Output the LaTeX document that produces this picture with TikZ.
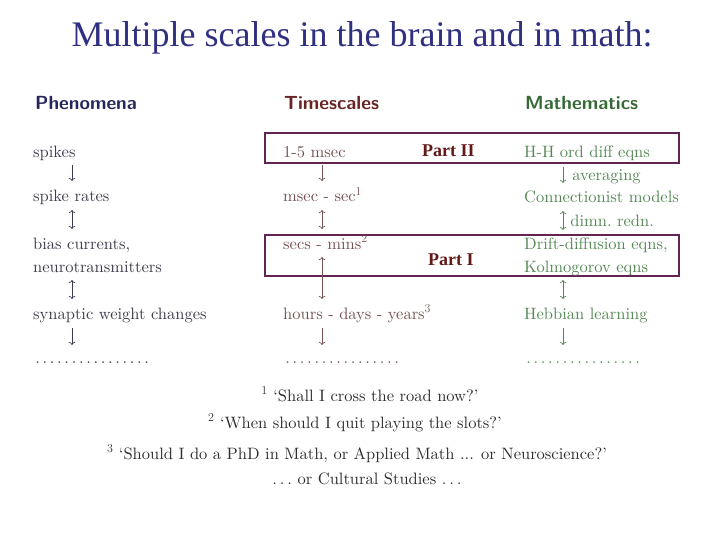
\documentclass[tikz,border=0pt]{standalone}
\usepackage{fontspec}
\setmainfont{lmroman10}[Extension=.otf,UprightFont=*-regular,BoldFont=*-bold,ItalicFont=*-italic]
\newfontfamily\headfont{lmsans10}[Extension=.otf,UprightFont=*-bold]
\newfontfamily\titlefont{Liberation Serif}
\usetikzlibrary{arrows.meta}

\definecolor{titleblue}{RGB}{48,48,128}
\definecolor{phenhead}{RGB}{38,38,90}
\definecolor{phentext}{RGB}{60,60,78}
\definecolor{timehead}{RGB}{105,35,35}
\definecolor{timetext}{RGB}{118,82,82}
\definecolor{mathhead}{RGB}{55,105,55}
\definecolor{mathtext}{RGB}{85,135,85}
\definecolor{boxcol}{RGB}{100,35,85}
\definecolor{partcol}{RGB}{100,25,25}
\definecolor{notetext}{RGB}{45,45,45}

\newcommand{\bodysize}{\fontsize{16.5}{20}\selectfont}
\newcommand{\dotrow}{\makebox[118pt][l]{\dotfill}}

\tikzset{
  txt/.style={anchor=base west,inner sep=0pt,font=\bodysize},
  head/.style={anchor=base west,inner sep=0pt,font=\headfont\fontsize{19}{22}\selectfont},
  cmarr/.style={-{Computer Modern Rightarrow},line width=0.7pt},
  cmdbl/.style={{Computer Modern Rightarrow}-{Computer Modern Rightarrow},line width=0.7pt},
  partbox/.style={draw=boxcol,line width=1.3pt},
  partlbl/.style={anchor=base west,inner sep=0pt,text=partcol,font=\titlefont\bfseries\fontsize{18}{22}\selectfont},
  note/.style={anchor=base,inner sep=0pt,text=notetext,font=\bodysize}
}

\begin{document}
\begin{tikzpicture}[x=1pt,y=-1pt]
\useasboundingbox (0,0) rectangle (720,540);

\node[anchor=base,inner sep=0pt,text=titleblue,font=\titlefont\fontsize{36}{40}\selectfont] (title) at (362,47) {Multiple scales in the brain and in math:};

% column headers
\node[head,text=phenhead] (hphen) at (35,110) {Phenomena};
\node[head,text=timehead] (htime) at (284,110) {Timescales};
\node[head,text=mathhead] (hmath) at (525,110) {Mathematics};

% boxes for the two parts
\draw[partbox] (265,133) rectangle (679,163);
\draw[partbox] (265,235) rectangle (679,276);
\node[partlbl] (partii) at (422,157) {Part II};
\node[partlbl] (parti) at (428,265) {Part I};

% phenomena
\node[txt,text=phentext] (spk) at (33,158) {spikes};
\node[txt,text=phentext] (rates) at (33,202) {spike rates};
\node[txt,text=phentext] (bias) at (33,249) {bias currents,};
\node[txt,text=phentext] (neuro) at (33,272) {neurotransmitters};
\node[txt,text=phentext] (syn) at (33,319) {synaptic weight changes};
\node[txt,text=phentext] (pdots) at (33,363) {\dotrow};

\draw[cmarr,phentext] ([shift={(39,7)}]spk.base west) -- ([shift={(39,-21)}]rates.base west);
\draw[cmdbl,phentext] ([shift={(39,8)}]rates.base west) -- ([shift={(39,-20)}]bias.base west);
\draw[cmdbl,phentext] ([shift={(39,8)}]neuro.base west) -- ([shift={(39,-20)}]syn.base west);
\draw[cmarr,phentext] ([shift={(39,9)}]syn.base west) -- ([shift={(39,-18)}]pdots.base west);

% timescales
\node[txt,text=timetext] (t1) at (283,158) {1-5 msec};
\node[txt,text=timetext] (t2) at (283,202) {msec - sec$^1$};
\node[txt,text=timetext] (t3) at (283,249) {secs - mins$^2$};
\node[txt,text=timetext] (t4) at (283,319) {hours - days - years$^3$};
\node[txt,text=timetext] (tdots) at (283,363) {\dotrow};
\coordinate (tmid) at (322,278);

\draw[cmarr,timetext] ([shift={(39,7)}]t1.base west) -- ([shift={(39,-21)}]t2.base west);
\draw[cmdbl,timetext] ([shift={(39,8)}]t2.base west) -- ([shift={(39,-20)}]t3.base west);
\draw[cmarr,timetext] ([yshift=-3]tmid) -- ([shift={(39,8)}]t3.base west);
\draw[cmarr,timetext] ([yshift=4]tmid) -- ([shift={(39,-20)}]t4.base west);
\draw[cmarr,timetext] ([shift={(39,9)}]t4.base west) -- ([shift={(39,-18)}]tdots.base west);

% mathematics
\node[txt,text=mathtext] (m1) at (524,158) {H-H ord diff eqns};
\node[txt,text=mathtext] (m2) at (524,203) {Connectionist models};
\node[txt,text=mathtext] (m3) at (524,249) {Drift-diffusion eqns,};
\node[txt,text=mathtext] (m4) at (524,272) {Kolmogorov eqns};
\node[txt,text=mathtext] (m5) at (524,319) {Hebbian learning};
\node[txt,text=mathtext] (mdots) at (524,363) {\dotrow};

\draw[cmarr,mathtext] ([shift={(39,9)}]m1.base west) -- node[txt,text=mathtext,anchor=base west,xshift=9pt,yshift=-6pt] (avg) {averaging} ([shift={(39,-20)}]m2.base west);
\draw[cmdbl,mathtext] ([shift={(39,8)}]m2.base west) -- node[txt,text=mathtext,anchor=base west,xshift=7pt,yshift=-6pt] (dimn) {dimn.\ redn.} ([shift={(39,-19)}]m3.base west);
\draw[cmdbl,mathtext] ([shift={(39,8)}]m4.base west) -- ([shift={(39,-20)}]m5.base west);
\draw[cmarr,mathtext] ([shift={(39,9)}]m5.base west) -- ([shift={(39,-18)}]mdots.base west);

% footnotes
\node[note] (n1) at (370,401) {$^1$ `Shall I cross the road now?'};
\node[note] (n2) at (355,428) {$^2$ `When should I quit playing the slots?'};
\node[note] (n3) at (357,459) {$^3$ `Should I do a PhD in Math, or Applied Math ... or Neuroscience?'};
\node[note] (n4) at (367,484) {$\ldots$ or Cultural Studies $\ldots$};
\end{tikzpicture}
\end{document}
